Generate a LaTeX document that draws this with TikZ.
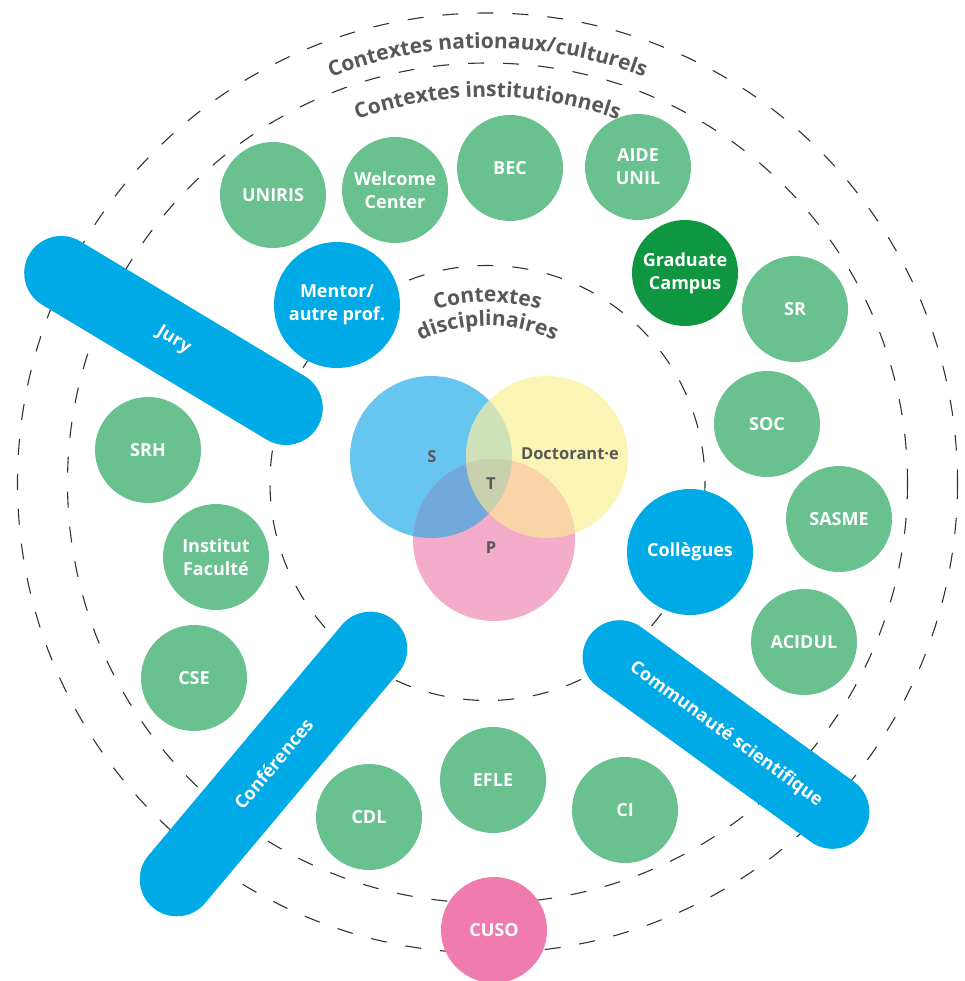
\documentclass[tikz,border=0pt]{standalone}
\usepackage{fontspec}
\setmainfont{Open Sans}
\usetikzlibrary{shapes.misc,decorations.text}
\definecolor{grn}{HTML}{68C18F}
\definecolor{dgrn}{HTML}{0E9640}
\definecolor{blu}{HTML}{00AAE6}
\definecolor{cpink}{HTML}{F07CAF}
\definecolor{txtgray}{HTML}{58585A}
\definecolor{vS}{HTML}{66C6EF}
\definecolor{vD}{HTML}{FAF5B5}
\definecolor{vP}{HTML}{F3ADCB}
\definecolor{vSD}{HTML}{CFE1B8}
\definecolor{vSP}{HTML}{71A9DB}
\definecolor{vDP}{HTML}{F8D4A6}
\definecolor{vSDP}{HTML}{C8D0AE}
\definecolor{dashc}{HTML}{333333}
\begin{document}
\begin{tikzpicture}[x=1pt,y=-1pt,
  ring/.style={draw=dashc, line width=1.1pt, dash pattern=on 16pt off 19pt},
  bub/.style={circle, fill=grn, minimum size=106pt, inner sep=0pt, text=white, align=center, font=\bfseries\fontsize{18}{23}\selectfont},
  bigbub/.style={bub, fill=blu, minimum size=126pt},
  pill/.style={rounded rectangle, fill=blu, minimum height=74pt, inner sep=0pt, text=white, font=\bfseries\fontsize{18}{23}\selectfont},
  vlab/.style={text=txtgray, font=\bfseries\fontsize{16.5}{20}\selectfont, inner sep=0pt},
  arctext/.style={decorate, decoration={text along path, text align=center, text color=txtgray}}]
\useasboundingbox (0,0) rectangle (964,981);
\coordinate (c) at (487.5,483);
% context rings
\draw[ring] (c) circle[radius=470];
\draw[ring] (c) circle[radius=420];
\draw[ring] (c) circle[radius=217.5];
% curved titles
\path[arctext, decoration={text={|\fontsize{21}{21}\selectfont\bfseries\color{txtgray}|Contextes nationaux/culturels}}]
  (c) ++(230:435) arc[start angle=230, end angle=310, radius=435];
\path[arctext, decoration={text={|\fontsize{21}{21}\selectfont\bfseries\color{txtgray}|Contextes institutionnels}}]
  (c) ++(230:386) arc[start angle=230, end angle=310, radius=386];
\path[arctext, decoration={text={|\fontsize{21}{21}\selectfont\bfseries\color{txtgray}|Contextes}}]
  (c) ++(215:181) arc[start angle=215, end angle=325, radius=181];
\path[arctext, decoration={text={|\fontsize{21}{21}\selectfont\bfseries\color{txtgray}|disciplinaires}}]
  (c) ++(210:157) arc[start angle=210, end angle=330, radius=157];
% Venn diagram
\coordinate (vs) at (431,457);
\coordinate (vd) at (547,457);
\coordinate (vp) at (494,540);
\fill[vS] (vs) circle[radius=81];
\fill[vD] (vd) circle[radius=81];
\fill[vP] (vp) circle[radius=81];
\begin{scope}\clip (vs) circle[radius=81]; \fill[vSD] (vd) circle[radius=81];\end{scope}
\begin{scope}\clip (vs) circle[radius=81]; \fill[vSP] (vp) circle[radius=81];\end{scope}
\begin{scope}\clip (vd) circle[radius=81]; \fill[vDP] (vp) circle[radius=81];\end{scope}
\begin{scope}\clip (vs) circle[radius=81]; \clip (vd) circle[radius=81]; \fill[vSDP] (vp) circle[radius=81];\end{scope}
\node[vlab] (lS) at (432,457) {S};
\node[vlab] (lD) at (570,454) {Doctorant·e};
\node[vlab] (lT) at (491,484) {T};
\node[vlab] (lP) at (491,548) {P};
% green bubbles
\node[bub] (uniris) at (273,195) {UNIRIS};
\node[bub] (welcome) at (395,190) {Welcome\\Center};
\node[bub] (bec) at (510,168) {BEC};
\node[bub] (aide) at (638,167) {AIDE\\UNIL};
\node[bub, fill=dgrn] (grad) at (685,273) {Graduate\\Campus};
\node[bub] (sr) at (795,309) {SR};
\node[bub] (soc) at (767,424) {SOC};
\node[bub] (sasme) at (839,519) {SASME};
\node[bub] (acidul) at (804,642) {ACIDUL};
\node[bub] (ci) at (625,810) {CI};
\node[bub] (efle) at (493,780) {EFLE};
\node[bub] (cdl) at (369,817) {CDL};
\node[bub, fill=cpink] (cuso) at (494,930) {CUSO};
\node[bub] (cse) at (194,678) {CSE};
\node[bub] (inst) at (216,557) {Institut\\Faculté};
\node[bub] (srh) at (148,450) {SRH};
% blue bubbles
\node[bigbub] (mentor) at (337,305) {Mentor/\\autre prof.};
\node[bigbub] (coll) at (690,552) {Collègues};
% pills
\node[pill, minimum width=336pt, rotate=-31] (jury) at (173.5,340.5) {Jury};
\node[pill, minimum width=375pt, rotate=50] (conf) at (273.5,764) {Conférences};
\node[pill, minimum width=337pt, rotate=-36] (comm) at (726,734.5) {Communauté scientifique};
\end{tikzpicture}
\end{document}
